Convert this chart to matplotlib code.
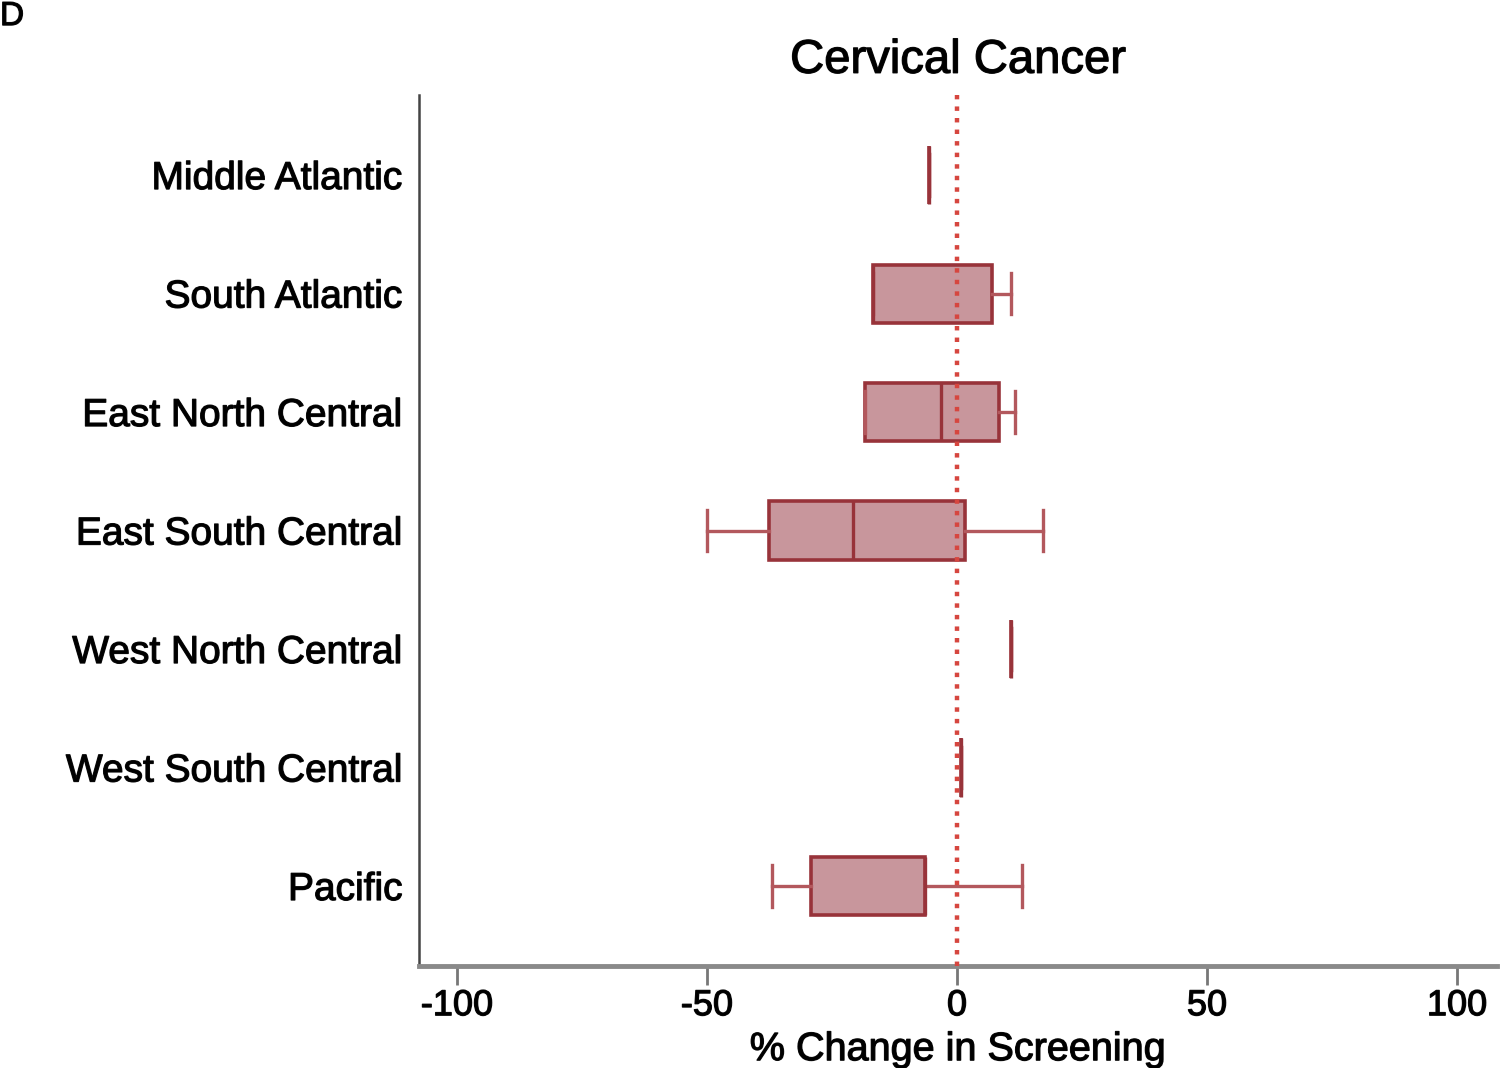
import matplotlib
matplotlib.use("Agg")
import matplotlib.pyplot as plt
import matplotlib.patheffects as pe

regions = ["Middle Atlantic", "South Atlantic", "East North Central",
           "East South Central", "West North Central", "West South Central", "Pacific"]
whislo = [-5.6, -16.8, -18.4, -50.0, 10.8, 0.8, -37.0]
q1     = [-5.6, -16.8, -18.4, -37.6, 10.8, 0.8, -29.2]
med    = [-5.6, -16.8, -3.2, -20.8, 10.8, 0.8, -6.4]
q3     = [-5.6, 7.0, 8.4, 1.6, 10.8, 0.8, -6.4]
whishi = [-5.6, 10.8, 11.6, 17.2, 10.8, 0.8, 13.0]
xticks = [-100, -50, 0, 50, 100]

plt.rcParams['font.family'] = ['Liberation Sans', 'DejaVu Sans']
stroke = [pe.withStroke(linewidth=0.9, foreground='#111111')]

fig = plt.figure(figsize=(15, 10.68), dpi=100)
ax = fig.add_axes([0.2793, 0.0955, 0.7187, 0.8155])

fill = '#c8969c'
edge = '#98333a'
whisk = '#b3585d'

stats = []
for i in range(len(regions)):
    stats.append(dict(whislo=whislo[i], q1=q1[i], med=med[i], q3=q3[i],
                      whishi=whishi[i], fliers=[], label=regions[i]))

pos = list(range(len(regions)))
ax.bxp(stats, positions=pos, widths=0.49, capwidths=0.35, orientation='horizontal',
       patch_artist=True, showfliers=False,
       boxprops=dict(facecolor=fill, edgecolor=edge, linewidth=2.6),
       medianprops=dict(color=edge, linewidth=2.4),
       whiskerprops=dict(color=whisk, linewidth=2.4),
       capprops=dict(color=whisk, linewidth=2.4))

ax.axvline(0, color='#d6463f', linestyle=(0, (1, 1.6)), linewidth=3.2, zorder=3)

ax.set_xlim(-107.6, 108)
ax.set_ylim(6.675, -0.675)
ax.set_xticks(xticks)
ax.set_xticklabels([str(t) for t in xticks], fontsize=26)
ax.set_yticks(pos)
ax.set_yticklabels(regions, fontsize=28)
ax.tick_params(axis='y', length=0, pad=12)
ax.tick_params(axis='x', length=14, width=2, color='#777777', pad=2)
xl = ax.set_xlabel('% Change in Screening', fontsize=28.5, labelpad=5)
tt = ax.set_title('Cervical Cancer', fontsize=34, pad=16)

for s in ['top', 'right']:
    ax.spines[s].set_visible(False)
ax.spines['left'].set_color('#444444')
ax.spines['left'].set_linewidth(1.8)
ax.spines['bottom'].set_color('#8a8a8a')
ax.spines['bottom'].set_linewidth(3.5)

dl = fig.text(0.0, 0.999, 'D', fontsize=24, va='top', ha='left')

for t in ax.get_xticklabels() + ax.get_yticklabels() + [xl, tt, dl]:
    t.set_path_effects(stroke)

fig.savefig('out.png', dpi=100)
